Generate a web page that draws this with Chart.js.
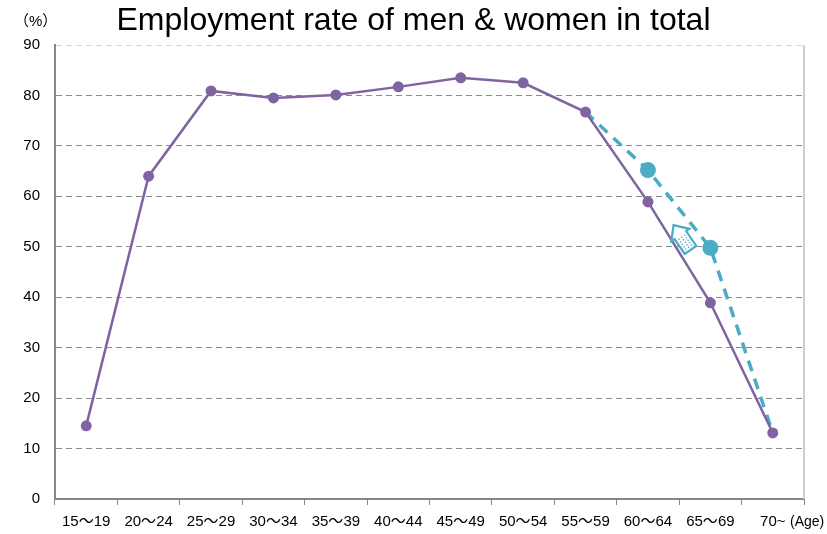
<!DOCTYPE html>
<html>
<head>
<meta charset="utf-8">
<script src="https://cdn.jsdelivr.net/npm/chart.js@4.4.0/dist/chart.umd.min.js"></script>
<style>
  html, body { margin: 0; padding: 0; background: #fff; }
  #wrap { width: 827px; height: 534px; }
</style>
</head>
<body>
<div id="wrap"><canvas id="chart"></canvas></div>
<script>
// age groups on the x axis
const ageGroups = ['15～19', '20～24', '25～29', '30～34', '35～39', '40～44',
                   '45～49', '50～54', '55～59', '60～64', '65～69', '70~'];
// actual employment rate (%)
const employmentRate = [14.5, 64.0, 80.9, 79.5, 80.1, 81.7, 83.5, 82.5, 76.7, 58.9, 38.9, 13.1];
// dashed target line, only from 55-59 on
const targetRate = [null, null, null, null, null, null, null, null, 76.7, 65.2, 49.8, 13.1];
const targetMarker = [0, 0, 0, 0, 0, 0, 0, 0, 0, 8, 8, 0];
const yMin = 0, yMax = 90, yStep = 10;

const FONT = '"Liberation Sans", Arial, "Noto Sans CJK JP", sans-serif';
const PURPLE = '#8064a2';
const TEAL = '#4bacc6';
const AXIS = '#868686';

// extra bits: right frame, the little arrow, unit labels
const extras = {
  id: 'extras',
  beforeDatasetsDraw(chart) {
    const { ctx, chartArea: a } = chart;
    ctx.save();
    ctx.strokeStyle = '#cfcfcf';
    ctx.lineWidth = 2;
    ctx.beginPath();
    ctx.moveTo(a.right, a.top);
    ctx.lineTo(a.right, a.bottom);
    ctx.stroke();
    ctx.restore();
  },
  afterDatasetsDraw(chart) {
    const { ctx, scales: { x, y } } = chart;
    // arrow sits between 60~64 and 65~69, pointing at the target line
    const cx = (x.getPixelForValue(9) + x.getPixelForValue(10)) / 2 + 4;
    const cy = y.getPixelForValue(51.5);
    ctx.save();
    ctx.translate(cx, cy);
    ctx.rotate(-0.6);
    ctx.beginPath();
    ctx.moveTo(0, -17);
    ctx.lineTo(11, -5);
    ctx.lineTo(7, -5);
    ctx.lineTo(7, 13);
    ctx.lineTo(-7, 13);
    ctx.lineTo(-7, -5);
    ctx.lineTo(-11, -5);
    ctx.closePath();
    ctx.fillStyle = '#fff';
    ctx.fill();
    ctx.strokeStyle = TEAL;
    ctx.lineWidth = 2.2;
    ctx.stroke();
    ctx.setLineDash([1.5, 1.5]);
    ctx.lineWidth = 1.2;
    for (let i = -3.5; i <= 3.5; i += 3.5) {
      ctx.beginPath();
      ctx.moveTo(i, -3);
      ctx.lineTo(i, 11);
      ctx.stroke();
    }
    ctx.restore();
  },
  afterDraw(chart) {
    const { ctx } = chart;
    ctx.save();
    ctx.fillStyle = '#000';
    ctx.textBaseline = 'middle';
    ctx.font = '15px ' + FONT;
    ctx.textAlign = 'left';
    ctx.fillText('（%）', 14, 22);
    ctx.font = '14px ' + FONT;
    ctx.fillText('(Age)', 790, 522);
    ctx.restore();
  }
};

new Chart(document.getElementById('chart'), {
  type: 'line',
  data: {
    labels: ageGroups,
    datasets: [{
      label: 'Employment rate',
      data: employmentRate,
      borderColor: PURPLE,
      backgroundColor: PURPLE,
      borderWidth: 2.5,
      pointRadius: 5.5,
      pointBorderWidth: 0,
      tension: 0
    }, {
      label: 'Target',
      data: targetRate,
      borderColor: TEAL,
      backgroundColor: TEAL,
      borderWidth: 3.5,
      borderDash: [11, 8],
      pointRadius: targetMarker,
      pointBorderWidth: 0,
      tension: 0
    }]
  },
  options: {
    responsive: true,
    maintainAspectRatio: false,
    animation: false,
    layout: { padding: 0 },
    plugins: {
      legend: { display: false },
      tooltip: { enabled: false },
      title: {
        display: true,
        text: 'Employment rate of men & women in total',
        color: '#000',
        font: { family: FONT, size: 32, weight: 'normal' },
        padding: { top: 2, bottom: 4.6 }
      }
    },
    scales: {
      x: {
        offset: true,
        grid: {
          offset: true,
          drawOnChartArea: false,
          drawTicks: true,
          tickLength: 6,
          color: AXIS
        },
        border: { color: AXIS, width: 2 },
        ticks: {
          color: '#000',
          font: { family: FONT, size: 15 },
          padding: 8,
          maxRotation: 0,
          autoSkip: false
        },
        afterFit(scale) { scale.height = 35; }
      },
      y: {
        min: yMin,
        max: yMax,
        grid: {
          drawTicks: false,
          color: ctx => ctx.tick && ctx.tick.value === yMax ? '#d6d6d6' : '#8c8c8c',
          lineWidth: 1
        },
        border: { color: AXIS, width: 2, dash: [6, 4] },
        ticks: {
          stepSize: yStep,
          color: '#000',
          font: { family: FONT, size: 15 },
          padding: 15
        },
        afterFit(scale) { scale.width = 55; }
      },
      // empty right-hand strip, keeps the title centred on the whole canvas
      yRight: {
        position: 'right',
        grid: { display: false },
        border: { display: false },
        ticks: { display: false },
        afterFit(scale) { scale.width = 23; }
      }
    }
  },
  plugins: [extras]
});
</script>
</body>
</html>
